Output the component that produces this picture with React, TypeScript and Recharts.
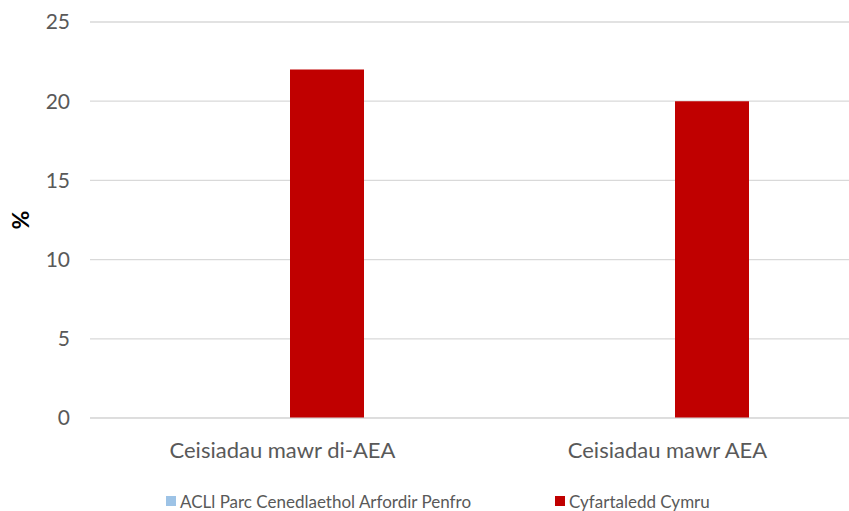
import React from 'react';
import { BarChart, Bar, XAxis, YAxis, CartesianGrid, Legend } from 'recharts';

const categories = ['Ceisiadau mawr di-AEA', 'Ceisiadau mawr AEA'];
const parcValues = [0, 0];
const cymruValues = [22, 20];
const yTicks = [0, 5, 10, 15, 20, 25];
const seriesNames = ['ACLl Parc Cenedlaethol Arfordir Penfro', 'Cyfartaledd Cymru'];
const seriesColors = ['#9dc3e6', '#c00000'];

const data = categories.map((c, i) => ({ name: c, parc: parcValues[i], cymru: cymruValues[i] }));

const FONT = 'Lato, "Open Sans", sans-serif';

const renderLegend = () => (
  <div style={{ position: 'relative', height: 20, width: 870, fontFamily: FONT, fontSize: 17, color: '#595959' }}>
    {[0, 1].map((i) => (
      <div key={i} style={{ position: 'absolute', left: i === 0 ? 166 : 555, top: 0, height: 20, display: 'flex', alignItems: 'center', whiteSpace: 'nowrap' }}>
        <span style={{ display: 'inline-block', width: 10, height: 10, background: seriesColors[i], marginRight: 4 }} />
        <span>{seriesNames[i]}</span>
      </div>
    ))}
  </div>
);

export default function App() {
  return (
    <div style={{ position: 'absolute', left: 0, top: 0, width: 849, height: 511, overflow: 'hidden', background: '#fff' }}>
      <BarChart
        width={870}
        height={511}
        data={data}
        margin={{ top: 22, right: 10, bottom: 0, left: 0 }}
        barSize={74}
        barGap={14}
      >
        <CartesianGrid vertical={false} stroke="#d9d9d9" strokeWidth={1.3} />
        <XAxis
          dataKey="name"
          height={73}
          axisLine={{ stroke: '#d9d9d9' }}
          tickLine={false}
          tickMargin={18}
          tick={{ fill: '#595959', fontSize: 22, fontFamily: FONT }}
        />
        <YAxis
          width={90}
          domain={[0, 25]}
          ticks={yTicks}
          axisLine={false}
          tickLine={false}
          tickMargin={14}
          tick={{ fill: '#595959', fontSize: 21, fontFamily: FONT }}
          label={{ value: '%', angle: -90, position: 'insideLeft', dx: 16, style: { fill: '#000', fontSize: 23, fontWeight: 'bold', fontFamily: FONT, textAnchor: 'middle' } }}
        />
        <Legend content={renderLegend} wrapperStyle={{ left: 0, bottom: 0, width: 870, height: 20 }} />
        <Bar dataKey="parc" name={seriesNames[0]} fill={seriesColors[0]} isAnimationActive={false} />
        <Bar dataKey="cymru" name={seriesNames[1]} fill={seriesColors[1]} isAnimationActive={false} />
      </BarChart>
    </div>
  );
}
